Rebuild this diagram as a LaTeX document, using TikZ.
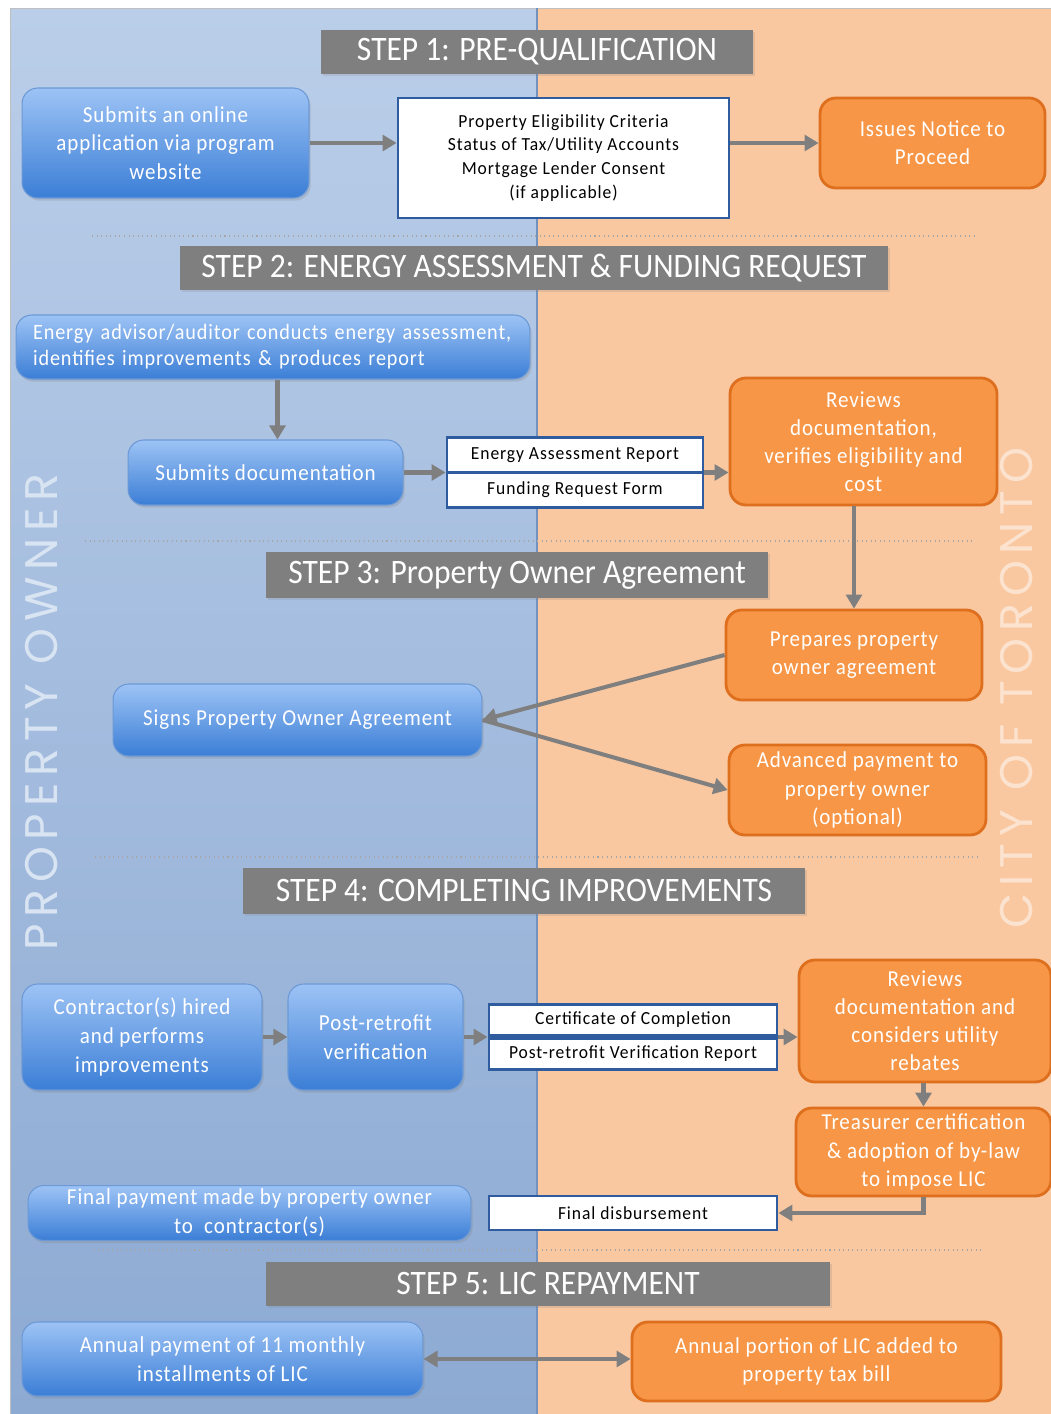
\documentclass[tikz,border=0pt]{standalone}
\usepackage{fontspec}
\setmainfont{Carlito}[FakeStretch=0.92]
\newfontfamily\boxfont{Carlito}[FakeStretch=0.92, LetterSpace=4]
\newfontfamily\docfont{Carlito}[FakeStretch=0.95, LetterSpace=5]
\newfontfamily\lanefont{Poppins}[LetterSpace=15]
\usetikzlibrary{arrows.meta,shadows}

\definecolor{laneblueT}{HTML}{BACEE9}
\definecolor{laneblueB}{HTML}{8DAAD3}
\definecolor{lanepeach}{HTML}{FAC8A0}
\definecolor{boxblueT}{HTML}{9DC3F5}
\definecolor{boxblueB}{HTML}{3B7ED6}
\definecolor{boxblueD}{HTML}{6C99D6}
\definecolor{cityfill}{HTML}{F79646}
\definecolor{cityline}{HTML}{DD6F1E}
\definecolor{docline}{HTML}{2F5C9E}
\definecolor{stepgray}{HTML}{7F7F7F}

\tikzset{
  owner/.style={rounded corners=9pt, top color=boxblueT, bottom color=boxblueB,
    draw=boxblueD, line width=0.6pt, text=white, align=center, inner sep=2pt,
    font=\boxfont\fontsize{13}{16.4}\selectfont,
    drop shadow={opacity=0.25, shadow xshift=1pt, shadow yshift=-1.5pt}},
  city/.style={rounded corners=9pt, fill=cityfill, draw=cityline, line width=1.6pt,
    text=white, align=center, inner sep=2pt, font=\boxfont\fontsize{13}{16}\selectfont},
  doc/.style={fill=white, draw=docline, line width=1.6pt, align=center,
    inner sep=1pt, font=\docfont\fontsize{10.5}{13.6}\selectfont},
  stepbar/.style={fill=stepgray, text=white, inner sep=0pt,
    font=\fontsize{19.5}{22}\selectfont,
    drop shadow={opacity=0.2, shadow xshift=1pt, shadow yshift=-1pt}},
  flow/.style={-{Triangle[length=8pt,width=9pt]}, draw=stepgray, line width=2.3pt},
  divider/.style={gray!70, dotted, line width=0.6pt},
  lanelabel/.style={rotate=90, inner sep=0pt, font=\lanefont\fontsize{26}{26}\selectfont}
}

\begin{document}
\begin{tikzpicture}[x=0.02cm,y=-0.02cm]
\useasboundingbox (0,0) rectangle (1051,1414);
% lanes
\fill[white] (0,0) rectangle (1051,1414);
\shade[top color=laneblueT, bottom color=laneblueB] (10,8) rectangle (537,1414);
\fill[lanepeach] (537,8) rectangle (1051,1414);
\draw[gray!50] (10,1414) -- (10,8) -- (1051,8);
\draw[boxblueD!70!gray, line width=0.8pt] (537,8) -- (537,1414);
\node[lanelabel, text=laneblueT!55!white] (ownerlane) at (42,712) {PROPERTY OWNER};
\node[lanelabel, text=lanepeach!50!white] (citylane) at (1017,688) {CITY OF TORONTO};

% dotted separators
\draw[divider] (92,236) -- (978,236);
\draw[divider] (85,541) -- (972,541);
\draw[divider] (95,857) -- (980,857);
\draw[divider] (94,1250) -- (982,1250);

% step titles
\node[stepbar, minimum width=8.64cm, minimum height=0.88cm] (step1) at (537,52) {STEP 1: PRE-QUALIFICATION};
\node[stepbar, minimum width=14.16cm, minimum height=0.88cm] (step2) at (534,268) {STEP 2: ENERGY ASSESSMENT \& FUNDING REQUEST};
\node[stepbar, minimum width=10.04cm, minimum height=0.92cm] (step3) at (517,575) {STEP 3: Property Owner Agreement};
\node[stepbar, minimum width=11.24cm, minimum height=0.92cm] (step4) at (524,891) {STEP 4: COMPLETING IMPROVEMENTS};
\node[stepbar, minimum width=11.28cm, minimum height=0.88cm] (step5) at (548,1284) {STEP 5: LIC REPAYMENT};

% step 1
\node[owner, minimum width=5.74cm, minimum height=2.2cm] (apply) at (165.5,143)
  {Submits an online\\application via program\\website};
\node[doc, minimum width=6.62cm, minimum height=2.4cm] (criteria) at (563.5,158)
  {Property Eligibility Criteria\\Status of Tax/Utility Accounts\\Mortgage Lender Consent\\(if applicable)};
\node[city, minimum width=4.5cm, minimum height=1.8cm] (notice) at (932.5,143)
  {Issues Notice to\\Proceed};
\draw[flow] (apply.east) -- (apply.east -| criteria.west);
\draw[flow] (apply.east -| criteria.east) -- (notice.west);

% step 2
\node[owner, minimum height=1.28cm, inner xsep=0.34cm, text width=9.6cm, align=left,
  font=\boxfont\fontsize{12.5}{14.7}\selectfont] (audit) at (273,347)
  {Energy advisor/auditor conducts energy assessment,\\identifies improvements \& produces report};
\node[owner, minimum width=5.5cm, minimum height=1.3cm] (submitdocs) at (265.5,472.5)
  {Submits documentation};
\node[doc, minimum width=5.12cm, minimum height=0.7cm] (earep) at (575,455) {Energy Assessment Report};
\node[doc, minimum width=5.12cm, minimum height=0.7cm] (frform) at (575,490) {Funding Request Form};
\node[city, minimum width=5.34cm, minimum height=2.54cm] (review1) at (863.5,441.5)
  {Reviews\\documentation,\\verifies eligibility and\\cost};
\draw[flow] (audit.south -| submitdocs.north) ++(12,0) coordinate (auditdown)
  -- (auditdown |- submitdocs.north);
\draw[flow] (submitdocs.east) -- (submitdocs.east -| earep.west);
\draw[flow] (submitdocs.east -| earep.east) -- (submitdocs.east -| review1.west);

% step 3
\node[city, minimum width=5.12cm, minimum height=1.8cm] (prepare) at (854,655)
  {Prepares property\\owner agreement};
\node[owner, minimum width=7.38cm, minimum height=1.44cm] (sign) at (297.5,720)
  {Signs Property Owner Agreement};
\node[city, minimum width=5.14cm, minimum height=1.8cm] (advance) at (857.5,790)
  {Advanced payment to\\property owner\\(optional)};
\draw[flow] (prepare.north |- review1.south) -- (prepare.north);
\draw[flow] (prepare.west) -- (sign.east);
\draw[flow] (sign.east) -- (advance.west);

% step 4
\node[owner, minimum width=4.8cm, minimum height=2.12cm] (hire) at (142,1037)
  {Contractor(s) hired\\and performs\\improvements};
\node[owner, minimum width=3.5cm, minimum height=2.12cm] (verify) at (375.5,1037)
  {Post-retrofit\\verification};
\node[doc, minimum width=5.76cm, minimum height=0.62cm] (certificate) at (633,1020) {Certificate of Completion};
\node[doc, minimum width=5.76cm, minimum height=0.62cm] (vreport) at (633,1054) {Post-retrofit Verification Report};
\node[city, minimum width=5.04cm, minimum height=2.44cm] (review2) at (925,1021)
  {Reviews\\documentation and\\considers utility\\rebates};
\node[city, minimum width=5.1cm, minimum height=1.76cm] (treasurer) at (923.5,1152)
  {Treasurer certification\\\& adoption of by-law\\to impose LIC};
\node[doc, minimum width=5.76cm, minimum height=0.68cm] (disburse) at (633,1213) {Final disbursement};
\node[owner, minimum width=8.86cm, minimum height=1.08cm] (finalpay) at (249.5,1213)
  {Final payment made by property owner\\to\ \ contractor(s)};
\draw[flow] (hire) -- (verify);
\draw[flow] (verify.east) -- (verify.east -| certificate.west);
\draw[flow] (verify.east -| certificate.east) -- (verify.east -| review2.west);
\draw[flow] (treasurer.north |- review2.south) -- (treasurer.north);
\draw[flow] (treasurer.south) |- (disburse.east);

% step 5
\node[owner, minimum width=8.02cm, minimum height=1.48cm] (instal) at (222.5,1359)
  {Annual payment of 11 monthly\\installments of LIC};
\node[city, minimum width=7.38cm, minimum height=1.58cm] (taxbill) at (816.5,1361.5)
  {Annual portion of LIC added to\\property tax bill};
\draw[flow, {Triangle[length=8pt,width=9pt]}-{Triangle[length=8pt,width=9pt]}]
  (instal.east) -- (instal.east -| taxbill.west);
\end{tikzpicture}
\end{document}
